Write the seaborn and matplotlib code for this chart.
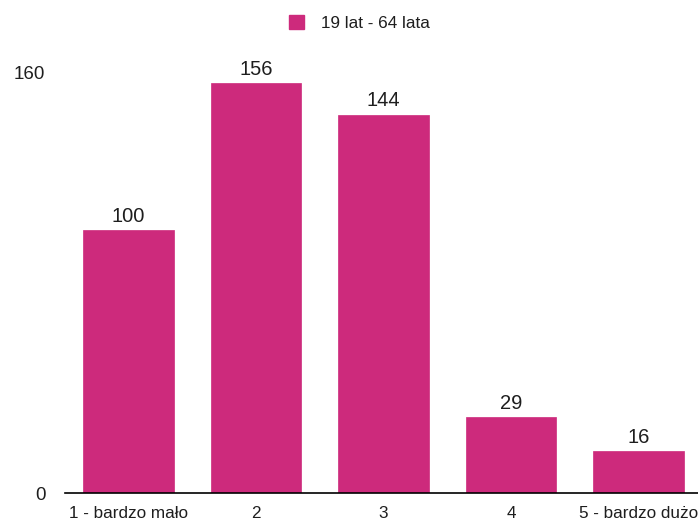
import matplotlib
matplotlib.use('Agg')
import matplotlib.pyplot as plt
from matplotlib.patches import Patch
import pandas as pd
import seaborn as sns

# Data
categories = ['1 - bardzo mało', '2', '3', '4', '5 - bardzo dużo']
counts = [100, 156, 144, 29, 16]
series_name = '19 lat - 64 lata'
bar_color = '#CD2A7C'
text_color = '#1e1e1e'

df = pd.DataFrame({'category': categories, 'count': counts})

sns.set_style('white')
plt.rcParams['font.family'] = ['Liberation Sans', 'DejaVu Sans']
plt.rcParams['text.color'] = text_color
plt.rcParams['xtick.color'] = text_color
plt.rcParams['ytick.color'] = text_color

fig = plt.figure(figsize=(6.98, 5.26), dpi=100)
ax = fig.add_axes([0.093, 0.0627, 0.913, 0.7995])

sns.barplot(data=df, x='category', y='count', color=bar_color, saturation=1,
            width=0.71, ax=ax, edgecolor=bar_color, linewidth=0.5)

ax.set_xlim(-0.5, 4.5)
ax.set_ylim(0, 160)
ax.set_yticks([0, 160])
ax.set_xlabel('')
ax.set_ylabel('')

# value labels above the bars
for cont in ax.containers:
    ax.bar_label(cont, fontsize=14.5, padding=3, clip_on=False, color=text_color)

ax.tick_params(axis='y', length=0, pad=14, labelsize=13.5)
ax.tick_params(axis='x', length=0, pad=9, labelsize=12.3)

for side in ['top', 'right', 'left']:
    ax.spines[side].set_visible(False)
ax.spines['bottom'].set_color('black')
ax.spines['bottom'].set_linewidth(1.2)

handles = [Patch(facecolor=bar_color, edgecolor=bar_color, label=series_name)]
fig.legend(handles=handles, loc='upper center', bbox_to_anchor=(0.515, 1.0),
           frameon=False, fontsize=12.3, handlelength=0.85, handleheight=0.85,
           handletextpad=1.0)

fig.savefig('out.png', dpi=100)
